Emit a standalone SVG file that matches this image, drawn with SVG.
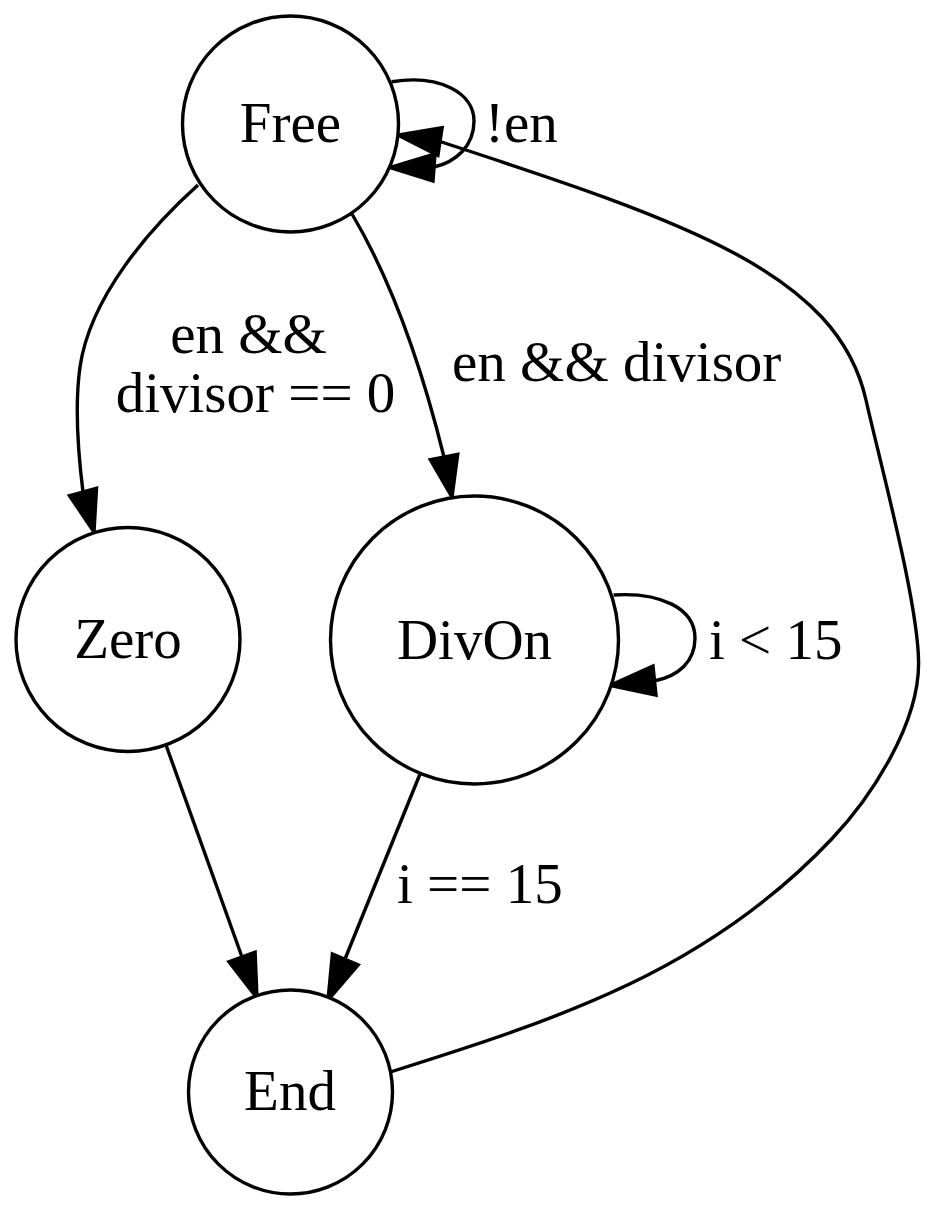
<svg xmlns="http://www.w3.org/2000/svg" width="931" height="1211" viewBox="0 0 931 1211">
<style>
.node circle{fill:#fff;stroke:#000;stroke-width:3.4}
.edge path,.edge line{fill:none;stroke:#000;stroke-width:3.4}
.edge polygon{fill:#000;stroke:#000;stroke-width:3.4}
text{font-family:"Liberation Serif","Times New Roman",serif;font-size:57px;fill:#000}
.c{text-anchor:middle}
</style>
<rect width="931" height="1211" fill="#fff"/>
<g id="connectors" class="edge">
  <!-- Free -> Free -->
  <path d="M391.7,81.7 C440,74 474,93 474,121 C474,146 456,162 434,167"/>
  <polygon points="435,154 390,167.5 433,181"/>
  <text x="485" y="141.7">!en</text>
  <!-- Free -> Zero -->
  <path d="M198,185 C150,228 90,297 80,367 C74.3,407 78,452 83,492"/>
  <polygon points="69.5,495.7 94,532 96.5,488.3"/>
  <text class="c" x="248.5" y="353">en &amp;&amp;</text>
  <text class="c" x="255.5" y="411.5">divisor == 0</text>
  <!-- Free -> DivOn -->
  <path d="M352,214 C390,278 420,360 444,457"/>
  <polygon points="430.3,459.7 452,497 457.7,454.3"/>
  <text x="452" y="381">en &amp;&amp; divisor</text>
  <!-- DivOn -> DivOn -->
  <path d="M613.6,595 C660,592 695,608 695,638 C695,662 678,676 656,680.5"/>
  <polygon points="653,666 610,685.5 656,695"/>
  <text x="709" y="659.3">i &lt; 15</text>
  <!-- Zero -> End -->
  <path d="M166,745 L242,957"/>
  <polygon points="228.9,961.8 257,998 255.1,952.2"/>
  <!-- DivOn -> End -->
  <path d="M420,774 L345,959"/>
  <polygon points="332.4,954 328,1000 358.2,965"/>
  <text x="397" y="903">i == 15</text>
  <!-- End -> Free -->
  <path d="M390.4,1072 C562,1018 708,969.9 831.7,839 C872.9,795.4 918.6,723.4 918.6,663.4 C918.6,603.4 879,458.5 866,400 C837.4,273.3 687,222.1 440,141.5"/>
  <polygon points="442.1,127.7 398,135 437.9,155.3"/>
</g>
<g id="node-Free" class="node">
  <circle cx="290.5" cy="124" r="108"/>
  <text class="c" x="290.5" y="141.7">Free</text>
</g>
<g id="node-Zero" class="node">
  <circle cx="128" cy="639.5" r="112"/>
  <text class="c" x="128" y="658.3">Zero</text>
</g>
<g id="node-DivOn" class="node">
  <circle cx="474.5" cy="640" r="144"/>
  <text class="c" x="474.5" y="659.3">DivOn</text>
</g>
<g id="node-End" class="node">
  <circle cx="290.5" cy="1092" r="102"/>
  <text class="c" x="290" y="1110">End</text>
</g>
</svg>
